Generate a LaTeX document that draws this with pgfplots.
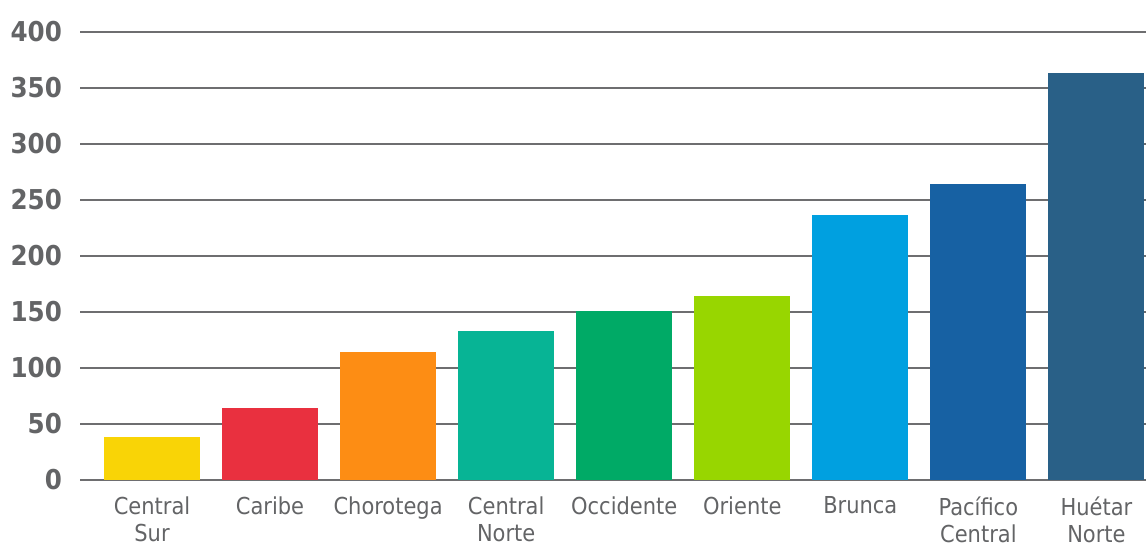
\documentclass[border=0pt]{standalone}
\usepackage{pgfplots}
\pgfplotsset{compat=1.18}
\usepackage{fontspec}
\setmainfont{DejaVu Sans Condensed}
\definecolor{cYellow}{HTML}{F9D406}
\definecolor{cRed}{HTML}{E9303F}
\definecolor{cOrange}{HTML}{FD8D14}
\definecolor{cTeal}{HTML}{07B495}
\definecolor{cGreen}{HTML}{00AA66}
\definecolor{cLime}{HTML}{98D600}
\definecolor{cLBlue}{HTML}{00A0E0}
\definecolor{cBlue}{HTML}{1761A3}
\definecolor{cDBlue}{HTML}{296087}
\definecolor{gridgray}{HTML}{6E6E70}
\definecolor{labelgray}{HTML}{636466}
\begin{document}
\begin{tikzpicture}
\begin{axis}[
  width=799.5pt, height=336pt, scale only axis,
  xmin=-0.61, xmax=8.42, ymin=0, ymax=400,
  ytick={0,50,...,400},
  xtick={0,...,8},
  xticklabels={{Central\\Sur},Caribe,Chorotega,{Central\\Norte},Occidente,Oriente,Brunca,{Pacífico\\Central},{Huétar\\Norte}},
  ymajorgrids,
  major grid style={line width=1.5pt, color=gridgray},
  axis line style={draw=none},
  tick style={draw=none},
  xticklabel style={align=center, font=\fontsize{17.5}{20.5}\selectfont, text=labelgray, yshift=-4.5pt},
  yticklabel style={font=\bfseries\fontsize{20.5}{20.5}\selectfont, text=labelgray, xshift=-10pt},
  /pgf/number format/assume math mode=true,
  ybar, bar width=72pt, bar shift=0pt,
]
\addplot[fill=cYellow, draw=none] coordinates {(0,38)};
\addplot[fill=cRed, draw=none] coordinates {(1,64)};
\addplot[fill=cOrange, draw=none] coordinates {(2,114)};
\addplot[fill=cTeal, draw=none] coordinates {(3,133)};
\addplot[fill=cGreen, draw=none] coordinates {(4,151)};
\addplot[fill=cLime, draw=none] coordinates {(5,164)};
\addplot[fill=cLBlue, draw=none] coordinates {(6,237)};
\addplot[fill=cBlue, draw=none] coordinates {(7,264)};
\addplot[fill=cDBlue, draw=none] coordinates {(8,363)};
\end{axis}
\pgfresetboundingbox
\useasboundingbox (-60pt,-51pt) rectangle (799.5pt,360pt);
\end{tikzpicture}
\end{document}
